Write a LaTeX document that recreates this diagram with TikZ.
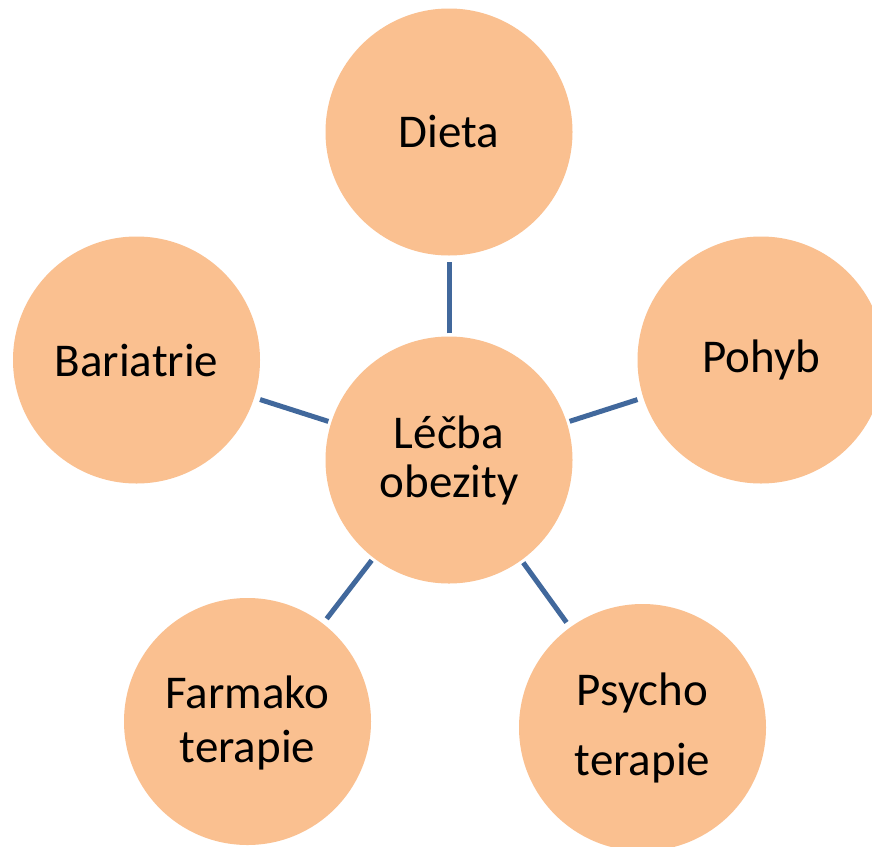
\documentclass[tikz,border=0pt]{standalone}
\usepackage{fontspec}
\setmainfont{Carlito}
\definecolor{bubblefill}{HTML}{FAC090}
\definecolor{connblue}{HTML}{41689C}
\tikzset{
  bubble/.style={circle, fill=bubblefill, draw=none, minimum size=247pt, inner sep=0pt,
    align=center, font=\fontsize{47}{49}\selectfont},
  conn/.style={draw=connblue, line width=5pt, shorten <=3pt, shorten >=6pt}
}
\begin{document}
\begin{tikzpicture}[x=1pt,y=-1pt]
\clip (0,0) rectangle (872,846);
\fill[white] (0,0) rectangle (872,846);
\node[bubble] (c) at (449,460) [text height=80pt, text depth=6pt] {Léčba\\obezity};
\node[bubble] (dieta) at (449,132) {Dieta};
\node[bubble] (pohyb) at (761,360) {Pohyb};
\node[bubble] (bari) at (136.5,360) {Bariatrie};
\node[bubble] (farm) at (247.5,721.5) [font=\fontsize{47}{54}\selectfont, text height=87pt, text depth=6pt] {Farmako\\terapie};
\node[bubble] (psych) at (642.5,727.5) [font=\fontsize{47}{70}\selectfont, text height=101pt, text depth=6pt] {Psycho\\terapie};
\draw[conn] (c) -- (dieta);
\draw[conn] (c) -- (pohyb);
\draw[conn] (c) -- (bari);
\draw[conn] (c) -- (farm);
\draw[conn] (c) -- (psych);
\end{tikzpicture}
\end{document}
